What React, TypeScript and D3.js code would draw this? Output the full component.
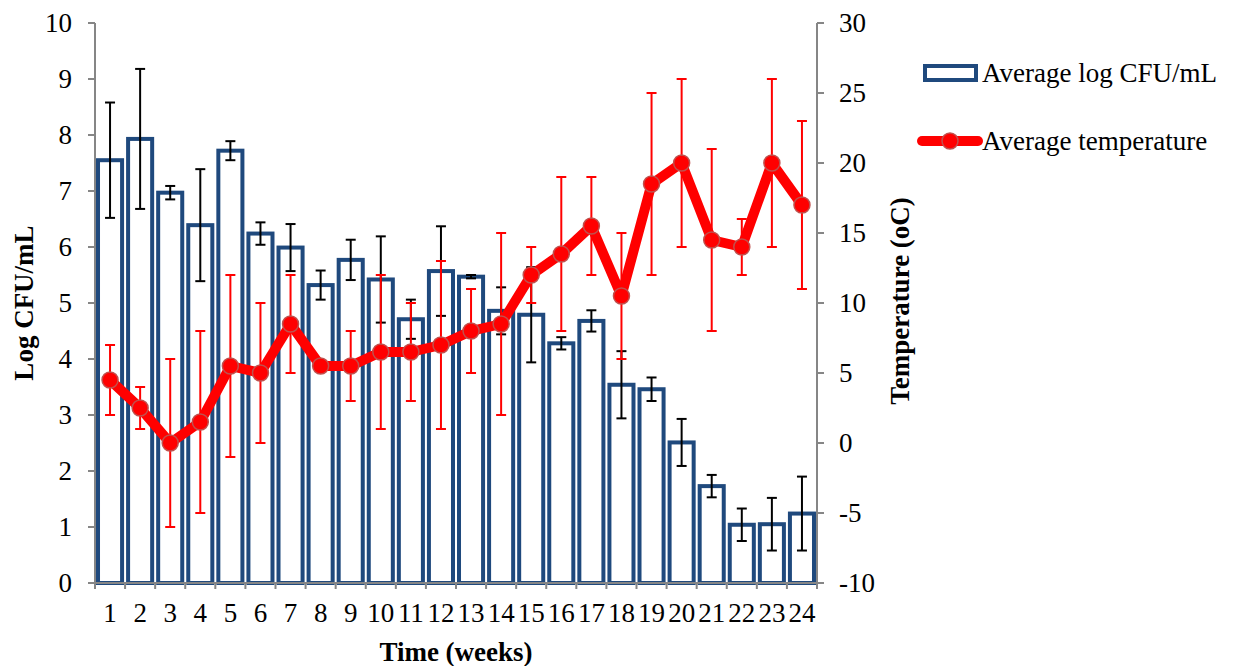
import React from 'react';
import * as d3 from 'd3';

const width = 1234;
const height = 666;

// weeks on the x axis
const weeks = ['1','2','3','4','5','6','7','8','9','10','11','12','13','14','15','16','17','18','19','20','21','22','23','24'];

// average log CFU/mL and its error
const logCfu = [7.55, 7.93, 6.97, 6.39, 7.72, 6.24, 5.99, 5.32, 5.77, 5.42, 4.71, 5.57, 5.47, 4.86, 4.79, 4.28, 4.68, 3.54, 3.46, 2.51, 1.73, 1.04, 1.05, 1.24];
const logCfuErr = [1.03, 1.25, 0.12, 1.0, 0.17, 0.2, 0.42, 0.26, 0.36, 0.77, 0.35, 0.8, 0.03, 0.42, 0.85, 0.11, 0.19, 0.6, 0.21, 0.42, 0.2, 0.29, 0.47, 0.66];

// average temperature (oC) and its error
const temperature = [4.5, 2.5, 0, 1.5, 5.5, 5, 8.5, 5.5, 5.5, 6.5, 6.5, 7, 8, 8.5, 12, 13.5, 15.5, 10.5, 18.5, 20, 14.5, 14, 20, 17];
const temperatureErr = [2.5, 1.5, 6, 6.5, 6.5, 5, 3.5, 0.3, 2.5, 5.5, 3.5, 6, 3, 6.5, 2, 5.5, 3.5, 4.5, 6.5, 6, 6.5, 2, 6, 6];

const leftTicks = [0, 1, 2, 3, 4, 5, 6, 7, 8, 9, 10];
const rightTicks = [-10, -5, 0, 5, 10, 15, 20, 25, 30];

const font = 'Liberation Serif, DejaVu Serif, Times New Roman, serif';
const axisGray = '#868686';
const barBlue = '#1f497d';
const red = '#ff0000';

const x0 = 95, x1 = 817, yTop = 23, yBot = 583;
const fs = 27;

export default function App() {
  const x = d3.scaleBand().domain(weeks).range([x0, x1]).paddingInner(0.2).paddingOuter(0.1);
  const xc = (w: string) => (x(w) as number) + x.bandwidth() / 2;
  const yL = d3.scaleLinear().domain([0, 10]).range([yBot, yTop]);
  const yR = d3.scaleLinear().domain([-10, 30]).range([yBot, yTop]);
  const step = (x1 - x0) / weeks.length;

  const line = d3.line<number>()
    .x((_, i) => xc(weeks[i]))
    .y((d) => yR(d));

  const cap = 5;

  return (
    <svg width={width} height={height} style={{ position: 'absolute', left: 0, top: 0, background: '#fff', fontFamily: font }}>
      {/* bars */}
      {logCfu.map((v, i) => (
        <rect key={'b' + i} x={x(weeks[i])} y={yL(v)} width={x.bandwidth()} height={yL(0) - yL(v)}
          fill="#fff" stroke={barBlue} strokeWidth={4} />
      ))}
      {/* bar error bars */}
      {logCfu.map((v, i) => {
        const cx = xc(weeks[i]);
        const hi = yL(v + logCfuErr[i]);
        const lo = yL(v - logCfuErr[i]);
        return (
          <g key={'be' + i} stroke="#000" strokeWidth={2}>
            <line x1={cx} x2={cx} y1={hi} y2={lo} />
            <line x1={cx - cap} x2={cx + cap} y1={hi} y2={hi} />
            <line x1={cx - cap} x2={cx + cap} y1={lo} y2={lo} />
          </g>
        );
      })}

      {/* axes */}
      <g stroke={axisGray} strokeWidth={2}>
        <line x1={x0} x2={x0} y1={yTop} y2={yBot} />
        <line x1={x1} x2={x1} y1={yTop} y2={yBot} />
        <line x1={x0} x2={x1} y1={yBot} y2={yBot} />
        {leftTicks.map((t) => <line key={'lt' + t} x1={x0 - 7} x2={x0} y1={yL(t)} y2={yL(t)} />)}
        {rightTicks.map((t) => <line key={'rt' + t} x1={x1} x2={x1 + 7} y1={yR(t)} y2={yR(t)} />)}
        {weeks.map((w, i) => <line key={'xt' + w} x1={x0 + step * i} x2={x0 + step * i} y1={yBot} y2={yBot + 6} />)}
        <line x1={x1} x2={x1} y1={yBot} y2={yBot + 6} />
      </g>
      {leftTicks.map((t) => (
        <text key={'ll' + t} x={72} y={yL(t)} dy="0.35em" textAnchor="end" fontSize={fs}>{t}</text>
      ))}
      {rightTicks.map((t) => (
        <text key={'rl' + t} x={839} y={yR(t)} dy="0.35em" textAnchor="start" fontSize={fs}>{t}</text>
      ))}
      {weeks.map((w) => (
        <text key={'xl' + w} x={xc(w)} y={622} textAnchor="middle" fontSize={fs}>{w}</text>
      ))}

      {/* temperature error bars */}
      {temperature.map((v, i) => {
        const cx = xc(weeks[i]);
        const hi = yR(v + temperatureErr[i]);
        const lo = yR(v - temperatureErr[i]);
        return (
          <g key={'te' + i} stroke={red} strokeWidth={2}>
            <line x1={cx} x2={cx} y1={hi} y2={lo} />
            <line x1={cx - cap} x2={cx + cap} y1={hi} y2={hi} />
            <line x1={cx - cap} x2={cx + cap} y1={lo} y2={lo} />
          </g>
        );
      })}
      {/* temperature line */}
      <path d={line(temperature) || ''} fill="none" stroke={red} strokeWidth={10} strokeLinejoin="round" />
      {temperature.map((v, i) => (
        <circle key={'m' + i} cx={xc(weeks[i])} cy={yR(v)} r={8} fill={red} stroke="#c0504d" strokeWidth={1.5} />
      ))}

      {/* axis titles */}
      <text transform="translate(33,303) rotate(-90)" textAnchor="middle" fontSize={fs} fontWeight="bold">Log CFU/mL</text>
      <text transform="translate(909,301) rotate(-90)" textAnchor="middle" fontSize={fs} fontWeight="bold">Temperature (oC)</text>
      <text x={456} y={661} textAnchor="middle" fontSize={fs} fontWeight="bold">Time (weeks)</text>

      {/* legend */}
      <rect x={925} y={66} width={51} height={14} fill="#fff" stroke={barBlue} strokeWidth={4} />
      <text x={982} y={82} fontSize={fs}>Average log CFU/mL</text>
      <line x1={922} x2={978} y1={141} y2={141} stroke={red} strokeWidth={10} strokeLinecap="round" />
      <circle cx={950} cy={141} r={8} fill={red} stroke="#c0504d" strokeWidth={1.5} />
      <text x={982} y={150} fontSize={fs}>Average temperature</text>
    </svg>
  );
}
